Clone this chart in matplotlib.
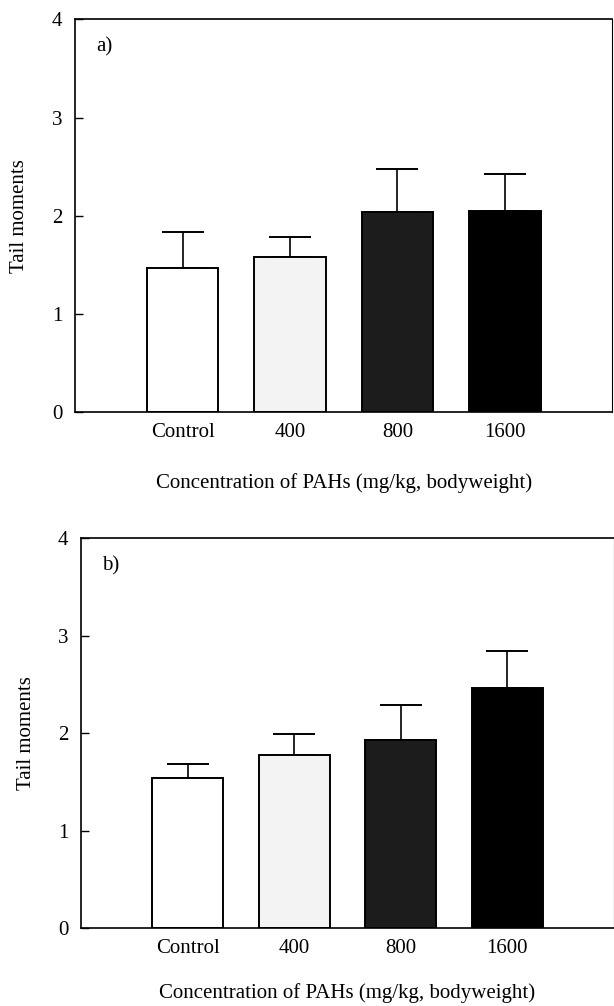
import matplotlib
matplotlib.use("Agg")
import matplotlib.pyplot as plt
import numpy as np

categories = ['Control', '400', '800', '1600']
means_a = [1.47, 1.58, 2.04, 2.05]
err_a = [0.36, 0.20, 0.44, 0.38]
means_b = [1.54, 1.78, 1.93, 2.46]
err_b = [0.15, 0.21, 0.36, 0.38]
yticks = [0, 1, 2, 3, 4]
xlabel = 'Concentration of PAHs (mg/kg, bodyweight)'
ylabel = 'Tail moments'
panel_labels = ['a)', 'b)']

colors = ['#ffffff', '#f3f3f3', '#1c1c1c', '#000000']

plt.rcParams['font.family'] = ['Liberation Serif', 'DejaVu Serif']
fig = plt.figure(figsize=(6.14, 10.06), dpi=100)

W, H = 614.0, 1006.0
# axes boxes in pixel coords: left, right, top, bottom
boxes = [(75, 612.5, 19.5, 412), (81, 614, 538.3, 928.3)]
xlabel_y = [483, 993]
ylabel_x = [20, 27]

for i, (means, errs) in enumerate([(means_a, err_a), (means_b, err_b)]):
    l, r, t, b = boxes[i]
    ax = fig.add_axes([l / W, 1 - b / H, (r - l) / W, (b - t) / H])
    x = np.arange(1, len(categories) + 1)
    ax.bar(x, means, width=0.667, color=colors, edgecolor='black', linewidth=1.4, zorder=2)
    ax.errorbar(x, means, yerr=[np.zeros(len(errs)), errs], fmt='none', ecolor='black',
                elinewidth=1.2, capsize=15, capthick=1.4, zorder=1)
    ax.set_xlim(0, 5)
    ax.set_ylim(0, 4)
    ax.set_yticks(yticks)
    ax.set_xticks(x)
    ax.set_xticklabels(categories)
    ax.tick_params(axis='x', length=0, pad=8, labelsize=15)
    ax.tick_params(axis='y', direction='in', length=6, width=1, pad=9, labelsize=15)
    for s in ax.spines.values():
        s.set_linewidth(1.2)
    ax.spines['right'].set_linewidth(0.8)
    ax.text(0.04, 0.93, panel_labels[i], transform=ax.transAxes, fontsize=15,
            ha='left', va='center')
    fig.text(((l + r) / 2) / W, 1 - xlabel_y[i] / H, xlabel, ha='center', va='center', fontsize=15)
    fig.text(ylabel_x[i] / W, 1 - ((t + b) / 2) / H, ylabel, ha='center', va='center',
             rotation=90, fontsize=15)

fig.savefig('out.png', dpi=100)
